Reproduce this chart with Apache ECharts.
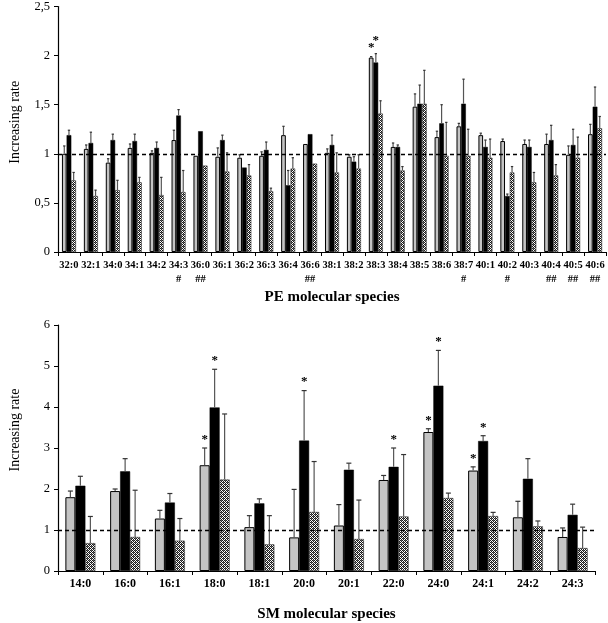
<!DOCTYPE html>
<html>
<head>
<meta charset="utf-8">
<script src="https://cdn.jsdelivr.net/npm/echarts@6/dist/echarts.min.js"></script>
<style>html,body{margin:0;padding:0;background:#fff}#c{width:608px;height:623px}</style>
</head>
<body>
<div id="c"></div>
<script>
// ---- PE panel data ----
const peCategories = ['32:0','32:1','34:0','34:1','34:2','34:3','36:0','36:1','36:2','36:3','36:4','36:6','38:1','38:2','38:3','38:4','38:5','38:6','38:7','40:1','40:2','40:3','40:4','40:5','40:6'];
const peHash = ['','','','','','#','##','','','','','##','','','','','','','#','','#','','##','##','##'];
const peGray   = [1.00,1.05,0.91,1.06,1.01,1.14,0.98,0.97,0.96,0.98,1.19,1.10,1.01,0.97,1.98,1.07,1.48,1.17,1.28,1.19,1.13,1.10,1.10,0.99,1.20];
const peGrayHi = [1.08,1.09,0.95,1.10,1.03,1.24,0.98,1.06,0.99,1.02,1.28,1.10,1.05,0.99,1.99,1.11,1.61,1.23,1.31,1.21,1.15,1.14,1.20,1.08,1.30];
const peBlack   = [1.19,1.11,1.14,1.13,1.06,1.39,1.23,1.14,0.86,1.04,0.68,1.20,1.09,0.92,1.93,1.07,1.51,1.31,1.51,1.07,0.57,1.07,1.14,1.09,1.48];
const peBlackHi = [1.24,1.22,1.20,1.20,1.12,1.45,1.23,1.19,0.86,1.12,0.83,1.20,1.19,0.97,2.02,1.09,1.70,1.50,1.76,1.14,0.59,1.14,1.29,1.25,1.68];
const peHatch   = [0.73,0.57,0.63,0.71,0.58,0.61,0.88,0.82,0.78,0.62,0.85,0.90,0.81,0.85,1.41,0.83,1.51,0.98,0.98,0.96,0.81,0.71,0.78,0.96,1.26];
const peHatchHi = [0.81,0.63,0.73,0.76,0.76,0.83,0.88,1.01,0.89,0.65,0.96,0.90,1.01,0.99,1.54,0.87,1.85,1.32,1.25,1.15,0.87,0.81,0.89,1.17,1.38];
const peStarGray  = [0,0,0,0,0,0,0,0,0,0,0,0,0,0,1,0,0,0,0,0,0,0,0,0,0];
const peStarBlack = [0,0,0,0,0,0,0,0,0,0,0,0,0,0,1,0,0,0,0,0,0,0,0,0,0];
const peStarHatch = [0,0,0,0,0,0,0,0,0,0,0,0,0,0,0,0,0,0,0,0,0,0,0,0,0];
const peTicks = [0,0.5,1,1.5,2,2.5];

// ---- SM panel data ----
const smCategories = ['14:0','16:0','16:1','18:0','18:1','20:0','20:1','22:0','24:0','24:1','24:2','24:3'];
const smGray    = [1.80,1.95,1.28,2.58,1.07,0.82,1.11,2.22,3.39,2.45,1.31,0.83];
const smGrayHi  = [1.95,2.00,1.48,3.00,1.35,1.99,1.62,2.33,3.47,2.54,1.70,1.05];
const smBlack   = [2.08,2.43,1.67,3.99,1.65,3.18,2.47,2.54,4.52,3.17,2.25,1.37];
const smBlackHi = [2.31,2.74,1.89,4.92,1.76,4.40,2.63,3.00,5.38,3.30,2.74,1.63];
const smHatch   = [0.68,0.83,0.74,2.23,0.65,1.44,0.78,1.33,1.78,1.34,1.09,0.56];
const smHatchHi = [1.33,1.97,1.28,3.83,1.35,2.67,1.73,2.84,1.90,1.43,1.22,1.07];
const smStarGray  = [0,0,0,1,0,0,0,0,1,1,0,0];
const smStarBlack = [0,0,0,1,0,1,0,1,1,1,0,0];
const smStarHatch = [0,0,0,0,0,0,0,0,0,0,0,0];
const smTicks = [0,1,2,3,4,5,6];

// hatch pattern
const pc = document.createElement('canvas');
pc.width = 4; pc.height = 4;
const px = pc.getContext('2d');
px.fillStyle = '#fff'; px.fillRect(0,0,4,4);
px.fillStyle = '#1a1a1a';
[[0,0],[2,0],[1,1],[3,1],[0,2],[2,2],[1,3],[3,3]].forEach(p=>px.fillRect(p[0],p[1],1,1));
px.fillStyle = '#666';
[[1,0],[3,2]].forEach(p=>px.fillRect(p[0],p[1],1,1));
const hatchColor = {image: pc, repeat: 'repeat'};

const serif = 'Liberation Serif';
const CAT_GAP = [0.36, 0.33];

const chart = echarts.init(document.getElementById('c'));

function barSeries(name, data, gi, style, withLine) {
  const s = {
    name, type: 'bar', xAxisIndex: gi, yAxisIndex: gi, data,
    barGap: '0%', barCategoryGap: (CAT_GAP[gi]*100)+'%',
    itemStyle: style, silent: true, z: 2
  };
  if (withLine) {
    s.markLine = {
      silent: true, symbol: 'none', label: {show: false},
      lineStyle: {color: '#000', type: [4,3], width: 1.3},
      data: [{yAxis: 1}], z: 5
    };
  }
  return s;
}

function errSeries(vals, his, stars, idx, gi) {
  const data = vals.map((v,i)=>[i, v, his[i], stars[i]]);
  return {
    type: 'custom', xAxisIndex: gi, yAxisIndex: gi, data, silent: true, z: 4,
    encode: {x: 0, y: [1,2]},
    renderItem: function(params, api) {
      const i = api.value(0), v = api.value(1), hi = api.value(2), st = api.value(3);
      const band = api.size([1,0])[0];
      const bw = band*(1-CAT_GAP[gi])/3;
      const cx = api.coord([i, v])[0] + (idx-1)*bw;
      const y0 = api.coord([i, v])[1];
      const y1 = api.coord([i, hi])[1];
      const cap = Math.max(2, bw*0.5);
      const children = [];
      if (hi > v + 0.001) {
        children.push({type:'line', shape:{x1:cx,y1:y0,x2:cx,y2:y1}, style:{stroke:'#555', lineWidth:1.2}});
        children.push({type:'line', shape:{x1:cx-cap/2,y1:y1,x2:cx+cap/2,y2:y1}, style:{stroke:'#333', lineWidth:1.2}});
      }
      if (st) {
        children.push({type:'text', style:{text:'*', x:cx, y:y1-2 - (gi===0 && idx===1 ? 4 : 0), align:'center', verticalAlign:'bottom', font:'bold 13px "Liberation Serif"', fill:'#000'}});
      }
      return {type:'group', children};
    }
  };
}

const grayStyle = {color: '#c4c4c4', borderColor: '#000', borderWidth: 1};
const blackStyle = {color: '#000', borderColor: '#000', borderWidth: 0.5};
const hatchStyle = {color: hatchColor, borderColor: '#333', borderWidth: 0.6};

function yAxisCfg(gi, max, interval, shift) {
  return {
    gridIndex: gi, type: 'value', min: 0, max, interval,
    name: 'Increasing rate', nameLocation: 'middle', nameGap: 36,
    nameTextStyle: {fontFamily: serif, fontSize: 14, color: '#000', padding: [0,0,0,shift]},
    axisLine: {show: true, lineStyle: {color: '#000', width: 1.2}},
    axisTick: {show: true, length: 4, lineStyle: {color: '#000'}},
    axisLabel: {fontFamily: serif, fontSize: 12.5, color: '#000', margin: 8,
      formatter: v => String(v).replace('.', ',')},
    splitLine: {show: false}
  };
}

chart.setOption({
  animation: false,
  grid: [
    {left: 53, right: 2, top: 2, height: 250},
    {left: 53, right: 13, top: 325, height: 248}
  ],
  xAxis: [
    {gridIndex: 0, type: 'category', data: peCategories,
     name: 'PE molecular species', nameLocation: 'middle', nameGap: 38,
     nameTextStyle: {fontFamily: serif, fontSize: 15, fontWeight: 'bold', color: '#000'},
     axisLine: {lineStyle: {color: '#000', width: 1.2}},
     axisTick: {show: true, length: 4, lineStyle: {color: '#000'}},
     axisLabel: {fontFamily: serif, fontSize: 10.5, fontWeight: 'bold', color: '#000', margin: 6, interval: 0, lineHeight: 14,
       formatter: (v, i) => peHash[i] ? v + '\n' + peHash[i] : v}},
    {gridIndex: 1, type: 'category', data: smCategories,
     name: 'SM molecular species', nameLocation: 'middle', nameGap: 36,
     nameTextStyle: {fontFamily: serif, fontSize: 15, fontWeight: 'bold', color: '#000'},
     axisLine: {lineStyle: {color: '#000', width: 1.2}},
     axisTick: {show: true, length: 4, lineStyle: {color: '#000'}},
     axisLabel: {fontFamily: serif, fontSize: 12, fontWeight: 'bold', color: '#000', margin: 7, interval: 0}}
  ],
  yAxis: [yAxisCfg(0, 2.5, 0.5, 14), yAxisCfg(1, 6, 1, 36)],
  series: [
    barSeries('A', peGray, 0, grayStyle, true),
    barSeries('B', peBlack, 0, blackStyle, false),
    barSeries('C', peHatch, 0, hatchStyle, false),
    errSeries(peGray, peGrayHi, peStarGray, 0, 0),
    errSeries(peBlack, peBlackHi, peStarBlack, 1, 0),
    errSeries(peHatch, peHatchHi, peStarHatch, 2, 0),
    barSeries('A2', smGray, 1, grayStyle, true),
    barSeries('B2', smBlack, 1, blackStyle, false),
    barSeries('C2', smHatch, 1, hatchStyle, false),
    errSeries(smGray, smGrayHi, smStarGray, 0, 1),
    errSeries(smBlack, smBlackHi, smStarBlack, 1, 1),
    errSeries(smHatch, smHatchHi, smStarHatch, 2, 1)
  ]
});
</script>
</body>
</html>
